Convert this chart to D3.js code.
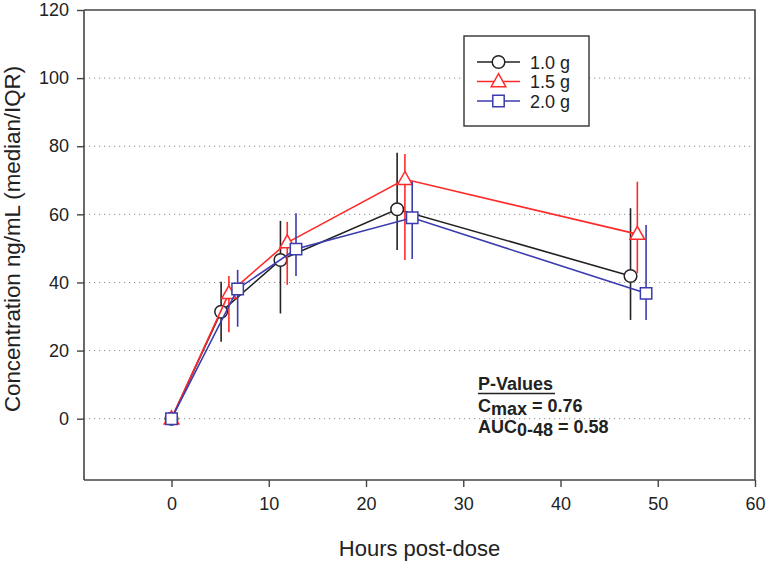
<!DOCTYPE html>
<html>
<head>
<meta charset="utf-8">
<script src="https://cdn.jsdelivr.net/npm/d3@7"></script>
<style>
  html, body { margin: 0; padding: 0; background: #fff; }
  svg { display: block; font-family: "Liberation Sans", Arial, sans-serif; }
</style>
</head>
<body>
<svg id="chart" width="766" height="563"></svg>
<script>
// ---- data ----
const seriesNames = ["1.0 g", "1.5 g", "2.0 g"];
const seriesColors = ["#222222", "#ff2b2b", "#3b3bb0"];
const seriesSymbols = ["circle", "triangle", "square"];

const time1 = [0, 5.1, 11.2, 23.2, 47.2];
const med1  = [0, 31.4, 46.6, 61.5, 41.9];
const lo1   = [0, 22.6, 30.9, 49.5, 29.0];
const hi1   = [0, 40.2, 58.1, 78.1, 61.8];

const time2 = [0, 5.9, 11.9, 24.0, 47.9];
const med2  = [0, 36.8, 51.7, 70.3, 54.2];
const lo2   = [0, 25.4, 39.3, 46.6, 42.7];
const hi2   = [0, 41.9, 57.8, 77.7, 69.6];

const time3 = [0, 6.8, 12.8, 24.75, 48.8];
const med3  = [0, 38.1, 49.8, 59.0, 36.8];
const lo3   = [0, 27.0, 41.9, 46.9, 29.0];
const hi3   = [0, 43.7, 60.3, 69.6, 56.9];

const xTicks = [0, 10, 20, 30, 40, 50, 60];
const yTicks = [0, 20, 40, 60, 80, 100, 120];
const gridTicks = [0, 20, 40, 60, 80, 100];

const xDomain = [-9, 60];
const yDomain = [-18, 120];

const xTitle = "Hours post-dose";
const yTitle = "Concentration ng/mL (median/IQR)";

(function () {
// ---- layout ----
const svg = d3.select("#chart");
const pL = 84, pR = 755, pT = 10, pB = 480;
const x = d3.scaleLinear().domain(xDomain).range([pL, pR]);
const y = d3.scaleLinear().domain(yDomain).range([pB, pT]);
const axisColor = "#444";

// gridlines
svg.append("g").selectAll("line").data(gridTicks).join("line")
  .attr("x1", pL).attr("x2", pR)
  .attr("y1", d => y(d)).attr("y2", d => y(d))
  .attr("stroke", "#8a8a8a").attr("stroke-width", 1)
  .attr("stroke-dasharray", "1.2,3.8");

// frame (top & right)
svg.append("path")
  .attr("d", `M${pL},${pT}H${pR}V${pB}`)
  .attr("fill", "none").attr("stroke", axisColor).attr("stroke-width", 1.6);

// axes
const xAxis = d3.axisBottom(x).tickValues(xTicks).tickSize(7).tickPadding(10).tickSizeOuter(0);
const gx = svg.append("g").attr("transform", `translate(0,${pB})`).call(xAxis);
const yAxis = d3.axisLeft(y).tickValues(yTicks).tickSize(7).tickPadding(8).tickSizeOuter(0);
const gy = svg.append("g").attr("transform", `translate(${pL},0)`).call(yAxis);

gx.select(".domain").attr("d", `M${pL},0H${pR}`);
gy.select(".domain").attr("d", `M0,${pT}V${pB}`);
[gx, gy].forEach(g => {
  g.selectAll(".domain").attr("stroke", axisColor).attr("stroke-width", 1.6);
  g.selectAll(".tick line").attr("stroke", axisColor).attr("stroke-width", 1.4);
  g.selectAll(".tick text").attr("fill", "#222").style("font-size", "18px")
    .style("font-family", "'Liberation Sans', Arial, sans-serif");
});

// axis titles
svg.append("text").attr("x", (pL + pR) / 2).attr("y", 556)
  .attr("text-anchor", "middle").attr("fill", "#222").style("font-size", "22px")
  .text(xTitle);
svg.append("text").attr("transform", `translate(20,239) rotate(-90)`)
  .attr("text-anchor", "middle").attr("fill", "#222").style("font-size", "22.3px")
  .text(yTitle);

// ---- series ----
const series = [
  { t: time1, m: med1, lo: lo1, hi: hi1 },
  { t: time2, m: med2, lo: lo2, hi: hi2 },
  { t: time3, m: med3, lo: lo3, hi: hi3 }
];

function symbolPath(type) {
  if (type === "circle") return "M-6.3,0A6.3,6.3 0 1,0 6.3,0A6.3,6.3 0 1,0 -6.3,0Z";
  if (type === "triangle") return "M0,-7.8L7.3,5.2L-7.3,5.2Z";
  return "M-5.7,-5.7H5.7V5.7H-5.7Z";
}

const line = d3.line().x(d => x(d[0])).y(d => y(d[1]));

series.forEach((s, i) => {
  const col = seriesColors[i];
  const g = svg.append("g");
  const pts = s.t.map((t, j) => [t, s.m[j], s.lo[j], s.hi[j]]);
  g.selectAll("line.err").data(pts.filter(p => p[3] > p[2])).join("line")
    .attr("class", "err")
    .attr("x1", d => x(d[0])).attr("x2", d => x(d[0]))
    .attr("y1", d => y(d[2])).attr("y2", d => y(d[3]))
    .attr("stroke", col).attr("stroke-width", 1.6);
  g.append("path").datum(pts).attr("d", line)
    .attr("fill", "none").attr("stroke", col).attr("stroke-width", 1.6);
  g.selectAll("path.mk").data(pts).join("path")
    .attr("class", "mk")
    .attr("transform", d => `translate(${x(d[0])},${y(d[1])})`)
    .attr("d", symbolPath(seriesSymbols[i]))
    .attr("fill", "#fff").attr("stroke", col).attr("stroke-width", 1.5);
});

// ---- legend ----
const lg = svg.append("g");
lg.append("rect").attr("x", 464).attr("y", 36).attr("width", 125).attr("height", 90)
  .attr("fill", "#fff").attr("stroke", "#333").attr("stroke-width", 1.4);
seriesNames.forEach((name, i) => {
  const cy = 62 + i * 19.5;
  lg.append("line").attr("x1", 477).attr("x2", 520).attr("y1", cy).attr("y2", cy)
    .attr("stroke", seriesColors[i]).attr("stroke-width", 1.6);
  lg.append("path").attr("transform", `translate(498.5,${cy})`)
    .attr("d", symbolPath(seriesSymbols[i]))
    .attr("fill", "#fff").attr("stroke", seriesColors[i]).attr("stroke-width", 1.5);
  lg.append("text").attr("x", 530).attr("y", cy + 6.5)
    .attr("fill", "#222").style("font-size", "18px").text(name);
});

// ---- P-values annotation ----
const ann = svg.append("g").style("font-weight", "bold").style("font-size", "18px").attr("fill", "#222");
ann.append("text").attr("x", 478).attr("y", 390).text("P-Values");
ann.append("line").attr("x1", 478).attr("x2", 555).attr("y1", 393.5).attr("y2", 393.5)
  .attr("stroke", "#222").attr("stroke-width", 1.5);
const t1 = ann.append("text").attr("x", 478).attr("y", 412);
t1.append("tspan").text("C");
t1.append("tspan").attr("dy", 3).text("max");
t1.append("tspan").attr("dy", -3).text(" = 0.76");
const t2 = ann.append("text").attr("x", 478).attr("y", 433);
t2.append("tspan").text("AUC");
t2.append("tspan").attr("dy", 3).text("0-48");
t2.append("tspan").attr("dy", -3).text(" = 0.58");
})();
</script>
</body>
</html>
